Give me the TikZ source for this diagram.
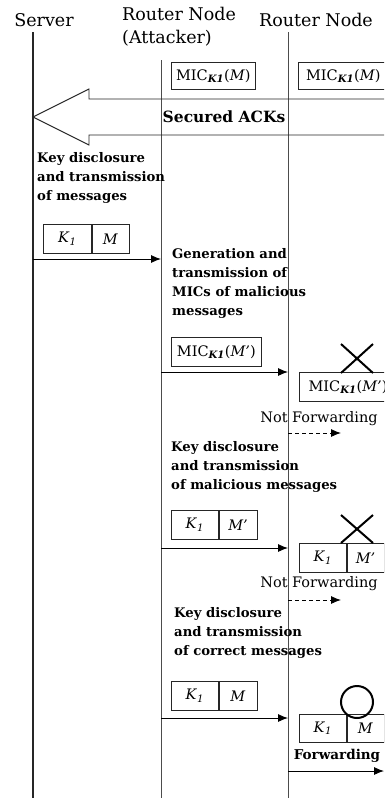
\documentclass[tikz,border=0pt]{standalone}
\usepackage{fontspec}
\setmainfont{DejaVu Serif}
\usetikzlibrary{arrows.meta}

% MIC of a message under key K1
\newcommand{\micof}[1]{MIC\textsubscript{\textbf{\textit{K1}}}(\textit{#1})}
\newcommand{\kone}{\textit{K}\textsubscript{\textit{1}}}

\tikzset{
  lifeline/.style={draw=black!70, line width=0.9pt},
  msg/.style={draw=black, line width=0.9pt, -{Latex[length=10pt,width=8pt]}},
  dmsg/.style={msg, dash pattern=on 4pt off 3pt},
  head/.style={font=\fontsize{17.5}{23}\selectfont, inner sep=0pt},
  lbl/.style={font=\bfseries\fontsize{13.2}{19}\selectfont, align=left, anchor=north west, inner sep=0pt},
  plain/.style={font=\fontsize{14.5}{16}\selectfont, inner sep=0pt},
  boxpart/.style={draw=black!85, line width=0.7pt, inner sep=0pt, anchor=north west,
    font=\fontsize{14.5}{16}\selectfont},
  verdict/.style={draw=black, line width=2pt},
}

\begin{document}
\begin{tikzpicture}[x=1pt,y=-1pt]
\clip (0,0) rectangle (384,798);
\fill[white] (0,0) rectangle (384,798);

% headers
\node[head] (hs) at (44,20) {Server};
\node[head, align=left, anchor=north west] (ha) at (122,7) {Router Node\\(Attacker)};
\node[head] (hr) at (316,20) {Router Node};

% lifelines
\coordinate (st) at (33,32);   \coordinate (sb) at (33,798);
\coordinate (at) at (161,60);  \coordinate (ab) at (161,798);
\coordinate (rt) at (288,32);  \coordinate (rb) at (288,798);
\draw[lifeline, draw=black!85, line width=1.1pt] (st) -- (sb);
\draw[lifeline] (at) -- (ab);
\draw[lifeline] (rt) -- (rb);

% MICs travelling with the ACKs
\node[boxpart, minimum width=84pt, minimum height=27pt] (mic1) at (171,62) {\micof{M}};
\node[boxpart, minimum width=90pt, minimum height=27pt, anchor=north west] (mic2) at (298,62) {\micof{M}};

% secured ACKs: hollow block arrow
\draw[draw=black!85, line width=0.9pt]
  (390,99) -- (89,99) -- (89,89) -- (33,117) -- (89,145) -- (89,135) -- (390,135);
\node[font=\bfseries\fontsize{15.5}{16}\selectfont, inner sep=0pt] (ack) at (224,117) {Secured ACKs};

% step 1
\node[lbl] (l1) at (37,152) {Key disclosure\\and transmission\\of messages};
\node[boxpart, minimum width=48pt, minimum height=29pt] (b1k) at (43,224) {\kone};
\node[boxpart, minimum width=37pt, minimum height=29pt] (b1m) at (b1k.north east) {\textit{M}};
\coordinate (s1) at (33,259); \coordinate (a1) at (161,259);
\draw[msg] (s1) -- (a1);

% step 2
\node[lbl] (l2) at (172,248) {Generation and\\transmission of\\MICs of malicious\\messages};
\node[boxpart, minimum width=90pt, minimum height=29pt] (b2) at (171,337) {\micof{M’}};
\coordinate (a2) at (161,372); \coordinate (r2) at (288,372);
\draw[msg] (a2) -- (r2);
\node[boxpart, minimum width=95pt, minimum height=29pt] (c2) at (299,372) {\,\micof{M’}};
\draw[verdict] (341,344) -- (373,373) (341,373) -- (373,344);
\node[plain] (nf2) at (319,419) {Not Forwarding};
\coordinate (r2d) at (288,433); \coordinate (e2d) at (341,433);
\draw[dmsg] (r2d) -- (e2d);

% step 3
\node[lbl] (l3) at (171,441) {Key disclosure\\and transmission\\of malicious messages};
\node[boxpart, minimum width=47pt, minimum height=29pt] (b3k) at (171,510) {\kone};
\node[boxpart, minimum width=38pt, minimum height=29pt] (b3m) at (b3k.north east) {\textit{M’}};
\coordinate (a3) at (161,548); \coordinate (r3) at (288,548);
\draw[msg] (a3) -- (r3);
\node[boxpart, minimum width=47pt, minimum height=29pt] (c3k) at (299,543) {\kone};
\node[boxpart, minimum width=37pt, minimum height=29pt] (c3m) at (c3k.north east) {\textit{M’}};
\draw[verdict] (341,515) -- (373,543) (341,543) -- (373,515);
\node[plain] (nf3) at (319,584) {Not Forwarding};
\coordinate (r3d) at (288,600); \coordinate (e3d) at (341,600);
\draw[dmsg] (r3d) -- (e3d);

% step 4
\node[lbl] (l4) at (174,607) {Key disclosure\\and transmission\\of correct messages};
\node[boxpart, minimum width=47pt, minimum height=29pt] (b4k) at (171,681) {\kone};
\node[boxpart, minimum width=38pt, minimum height=29pt] (b4m) at (b4k.north east) {\textit{M}};
\coordinate (a4) at (161,718); \coordinate (r4) at (288,718);
\draw[msg] (a4) -- (r4);
\node[boxpart, minimum width=47pt, minimum height=28pt] (c4k) at (299,714) {\kone};
\node[boxpart, minimum width=37pt, minimum height=28pt] (c4m) at (c4k.north east) {\textit{M}};
\draw[verdict] (357,702) circle (16);
\node[font=\bfseries\fontsize{13.5}{16}\selectfont, inner sep=0pt] (fw) at (337,756) {Forwarding};
\coordinate (r4f) at (288,771); \coordinate (e4f) at (384,771);
\draw[msg] (r4f) -- (e4f);
\end{tikzpicture}
\end{document}
